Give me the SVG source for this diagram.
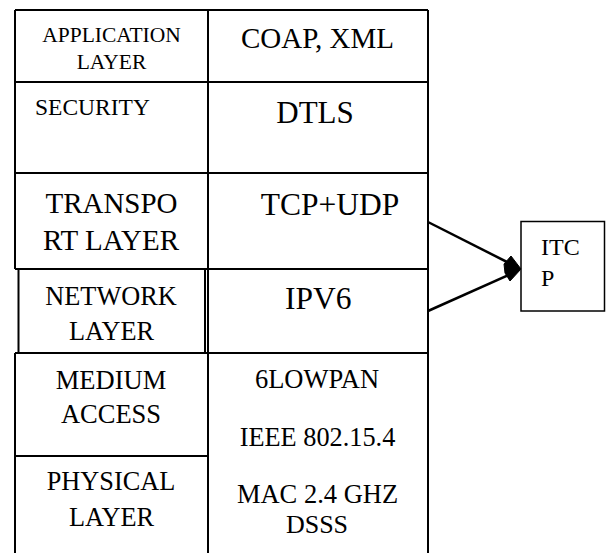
<svg xmlns="http://www.w3.org/2000/svg" width="606" height="553" viewBox="0 0 606 553">
<style>
  .ln { stroke: #000; stroke-width: 2; fill: none; }
  .t { font-family: 'Liberation Serif', 'Times New Roman', Times, 'DejaVu Serif', serif; fill: #000; }
  .c { text-anchor: middle; }
  .conn { stroke: #000; stroke-width: 2.5; fill: none; }
</style>
<rect x="0" y="0" width="606" height="553" fill="#fff"/>
<g id="table-frame">
  <line class="ln" x1="15" y1="10" x2="428" y2="10"/>
  <line class="ln" x1="15" y1="10" x2="15" y2="269"/>
  <line class="ln" x1="15" y1="353" x2="15" y2="553"/>
  <line class="ln" x1="208" y1="10" x2="208" y2="553"/>
  <line class="ln" x1="428" y1="10" x2="428" y2="553"/>
  <line class="ln" x1="15" y1="82" x2="428" y2="82"/>
  <line class="ln" x1="15" y1="173" x2="428" y2="173"/>
  <line class="ln" x1="15" y1="269" x2="428" y2="269"/>
  <line class="ln" x1="15" y1="353" x2="428" y2="353"/>
  <line class="ln" x1="15" y1="456" x2="208" y2="456"/>
</g>
<g id="application-layer">
  <text class="t c" x="111.5" y="42" font-size="21.5">APPLICATION</text>
  <text class="t c" x="111.5" y="69" font-size="21.5">LAYER</text>
</g>
<g id="coap-xml">
  <text class="t c" x="317.5" y="48" font-size="29">COAP, XML</text>
</g>
<g id="security">
  <text class="t" x="35" y="115" font-size="23.5">SECURITY</text>
</g>
<g id="dtls">
  <text class="t c" x="315" y="123" font-size="31">DTLS</text>
</g>
<g id="transport-layer">
  <text class="t c" x="111.5" y="212.5" font-size="29">TRANSPO</text>
  <text class="t c" x="111" y="250" font-size="29">RT LAYER</text>
</g>
<g id="tcp-udp">
  <text class="t c" x="330" y="215" font-size="31.5">TCP+UDP</text>
</g>
<g id="network-layer">
  <rect class="ln" x="18.5" y="269" width="186.5" height="84"/>
  <text class="t c" x="111" y="305" font-size="26.3">NETWORK</text>
  <text class="t c" x="111.5" y="340" font-size="26.3">LAYER</text>
</g>
<g id="ipv6">
  <text class="t c" x="318.3" y="309" font-size="31.5">IPV6</text>
</g>
<g id="medium-access">
  <text class="t c" x="111" y="389" font-size="26.5">MEDIUM</text>
  <text class="t c" x="111" y="423" font-size="26.5">ACCESS</text>
</g>
<g id="physical-layer">
  <text class="t c" x="111" y="490" font-size="26.3">PHYSICAL</text>
  <text class="t c" x="111.5" y="526" font-size="26.3">LAYER</text>
</g>
<g id="mac-phy">
  <text class="t c" x="317" y="388" font-size="26.5">6LOWPAN</text>
  <text class="t c" x="317.5" y="446" font-size="26.3">IEEE 802.15.4</text>
  <text class="t c" x="317.5" y="503" font-size="26.5">MAC 2.4 GHZ</text>
  <text class="t c" x="317" y="533" font-size="26">DSSS</text>
</g>
<g id="itcp">
  <rect x="521" y="221.5" width="83.5" height="89.5" fill="#fff" stroke="#000" stroke-width="1.5"/>
  <text class="t" x="541" y="255" font-size="24">ITC</text>
  <text class="t" x="541" y="286" font-size="24">P</text>
</g>
<g id="connectors">
  <line class="conn" x1="428" y1="222" x2="513" y2="265"/>
  <line class="conn" x1="428" y1="311" x2="513" y2="273"/>
  <polygon points="521,269 511,256 504,264 505,273 510,281" fill="#000" stroke="#000" stroke-width="1"/>
</g>
</svg>
